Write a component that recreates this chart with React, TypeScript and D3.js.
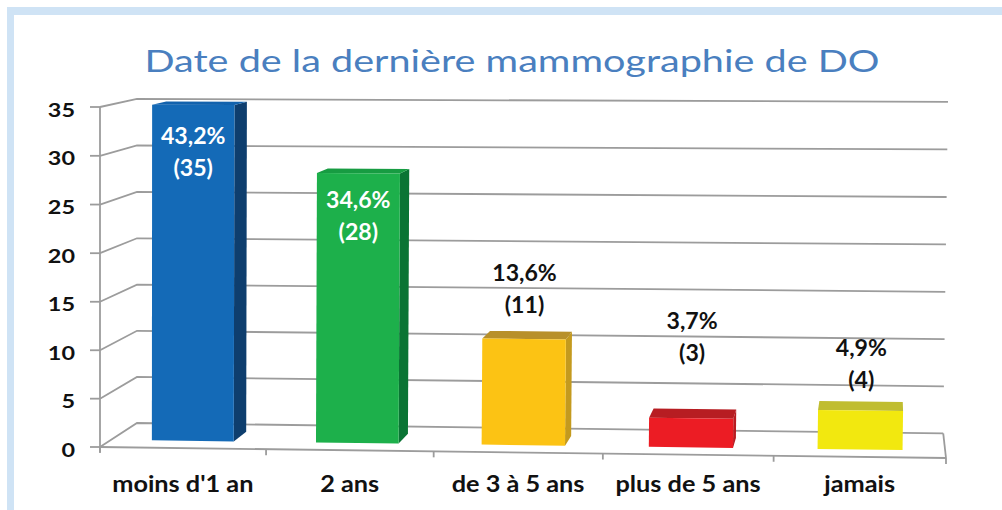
import React from 'react';
import * as d3 from 'd3';

// chart data
const categories = ["moins d'1 an", '2 ans', 'de 3 à 5 ans', 'plus de 5 ans', 'jamais'];
const counts = [35, 28, 11, 3, 4];
const percents = ['43,2%', '34,6%', '13,6%', '3,7%', '4,9%'];
const yTicks = [0, 5, 10, 15, 20, 25, 30, 35];
// where the first label line sits, in value units
const labelLevels = [31.8, 25.2, 17.8, 13, 10.4];

const palette = [
    { front: '#146ab7', side: '#0e3e6e', top: '#1262ad', text: '#fff' },
    { front: '#1db04b', side: '#0a7434', top: '#179c42', text: '#fff' },
    { front: '#fcc314', side: '#c49a1e', top: '#b8902a', text: '#111' },
    { front: '#ec1c24', side: '#b81c22', top: '#b71d22', text: '#111' },
    { front: '#f2e80f', side: '#c0bd30', top: '#c0bd30', text: '#111' },
];

const W = 1002;
const H = 510;
const FONT = 'Lato, "Open Sans", sans-serif';
const GRID = '#9c9c9c';

// front plane corners (value 0 / max, first / last category) and the vanishing point
const P00: [number, number] = [100, 447];
const P10: [number, number] = [946, 458];
const P11: [number, number] = [951, 110];
const P01: [number, number] = [100, 107];
const VP: [number, number] = [887, -64];
const BACK = 0.953;

// unit square -> quad homography
function makeHomography() {
    const [x0, y0] = P00, [x1, y1] = P10, [x2, y2] = P11, [x3, y3] = P01;
    const dx1 = x1 - x2, dx2 = x3 - x2, dx3 = x0 - x1 + x2 - x3;
    const dy1 = y1 - y2, dy2 = y3 - y2, dy3 = y0 - y1 + y2 - y3;
    const den = dx1 * dy2 - dx2 * dy1;
    const g = (dx3 * dy2 - dx2 * dy3) / den;
    const h = (dx1 * dy3 - dx3 * dy1) / den;
    const a = x1 - x0 + g * x1, b = x3 - x0 + h * x3, c = x0;
    const d = y1 - y0 + g * y1, e = y3 - y0 + h * y3, f = y0;
    return (u: number, v: number): [number, number] => {
        const w = g * u + h * v + 1;
        return [(a * u + b * v + c) / w, (d * u + e * v + f) / w];
    };
}

const App: React.FC = () => {
    const front = makeHomography();
    const xs = d3.scaleLinear().domain([0, categories.length]).range([0, 1]);
    const ys = d3.scaleLinear().domain([0, 35]).range([0, 1]);
    const band = d3.scaleBand<number>()
        .domain(d3.range(categories.length))
        .range([0, categories.length])
        .paddingInner(0.5)
        .paddingOuter(0.25);

    // X in categories, Y in value units, Z 0 = front, 1 = back wall
    const project = (X: number, Y: number, Z: number): [number, number] => {
        const [fx, fy] = front(xs(X), ys(Y));
        const s = 1 - (1 - BACK) * Z;
        return [VP[0] + s * (fx - VP[0]), VP[1] + s * (fy - VP[1])];
    };
    const poly = (pts: [number, number][]) => pts.map(p => p.join(',')).join(' ');

    const n = categories.length;
    const z0 = 0.3;
    const z1 = 0.7;

    return (
        <svg width={W} height={H} style={{ position: 'absolute', left: 0, top: 0, background: '#fff' }}
            fontFamily={FONT}>
            <rect x={7} y={7} width={W - 7} height={8} fill="#cfe3f5" />
            <rect x={7} y={7} width={7} height={H - 7} fill="#cfe3f5" />

            <text x={512} y={72} textAnchor="middle" fontSize={31} fill="#4a7fbf"
                textLength={735} lengthAdjust="spacingAndGlyphs">
                Date de la dernière mammographie de DO
            </text>

            {/* back wall + left wall grid */}
            {yTicks.map(t => {
                const a = project(0, t, 0), b = project(0, t, 1), c = project(n, t, 1);
                return (
                    <g key={t}>
                        <polyline points={poly([a, b, c])} fill="none" stroke={GRID} strokeWidth={1.8} />
                        <line x1={a[0] - 10} y1={a[1]} x2={a[0]} y2={a[1]} stroke={GRID} strokeWidth={1.8} />
                        <g transform={`translate(${a[0] - 25},${a[1] + 9.5}) scale(1.3,1)`}>
                            <text textAnchor="end" fontSize={18} fontWeight="bold" fill="#111">{t}</text>
                        </g>
                    </g>
                );
            })}

            {/* axes */}
            {(() => {
                const a = project(0, 0, 0), top = project(0, 35, 0), r = project(n, 0, 0), rb = project(n, 0, 1);
                return (
                    <g fill="none" stroke={GRID} strokeWidth={1.8}>
                        <line x1={a[0]} y1={top[1]} x2={a[0]} y2={a[1] + 5} />
                        <line x1={a[0]} y1={a[1]} x2={r[0]} y2={r[1]} />
                        <line x1={r[0]} y1={r[1]} x2={rb[0]} y2={rb[1]} />
                        {d3.range(n + 1).map(i => {
                            const p = project(i, 0, 0);
                            return <line key={i} x1={p[0]} y1={p[1]} x2={p[0]} y2={p[1] + 6} />;
                        })}
                    </g>
                );
            })()}

            {/* category labels */}
            {categories.map((c, i) => {
                const p = project(i + 0.5, 0, 0);
                return (
                    <g key={c} transform={`translate(${p[0]},492) scale(1.15,1)`}>
                        <text textAnchor="middle" fontSize={22} fontWeight="bold" fill="#111">{c}</text>
                    </g>
                );
            })}

            {/* bars */}
            {counts.map((v, i) => {
                const x0 = band(i)!;
                const x1 = x0 + band.bandwidth();
                const col = palette[i];
                const fbl = project(x0, 0, z0), fbr = project(x1, 0, z0);
                const ftl = project(x0, v, z0), ftr = project(x1, v, z0);
                const btl = project(x0, v, z1), btr = project(x1, v, z1);
                const bbl = project(x0, 0, z1), bbr = project(x1, 0, z1);
                return (
                    <g key={i}>
                        {ftr[0] < VP[0] && <polygon points={poly([fbr, ftr, btr, bbr])} fill={col.side} />}
                        {ftl[0] > VP[0] && <polygon points={poly([fbl, ftl, btl, bbl])} fill={col.side} />}
                        <polygon points={poly([ftl, ftr, btr, btl])} fill={col.top} />
                        <polygon points={poly([fbl, fbr, ftr, ftl])} fill={col.front} />
                    </g>
                );
            })}

            {/* value labels */}
            {counts.map((v, i) => {
                const x0 = band(i)!;
                const p = project(x0 + band.bandwidth() / 2, labelLevels[i], z0);
                return (
                    <g key={i} transform={`translate(${p[0]},${p[1] + 8}) scale(1.05,1)`}>
                        <text textAnchor="middle" fontSize={22} fontWeight="bold" fill={palette[i].text}>
                            <tspan x={0} y={0}>{percents[i]}</tspan>
                            <tspan x={0} y={32}>({v})</tspan>
                        </text>
                    </g>
                );
            })}
        </svg>
    );
};

export default App;
